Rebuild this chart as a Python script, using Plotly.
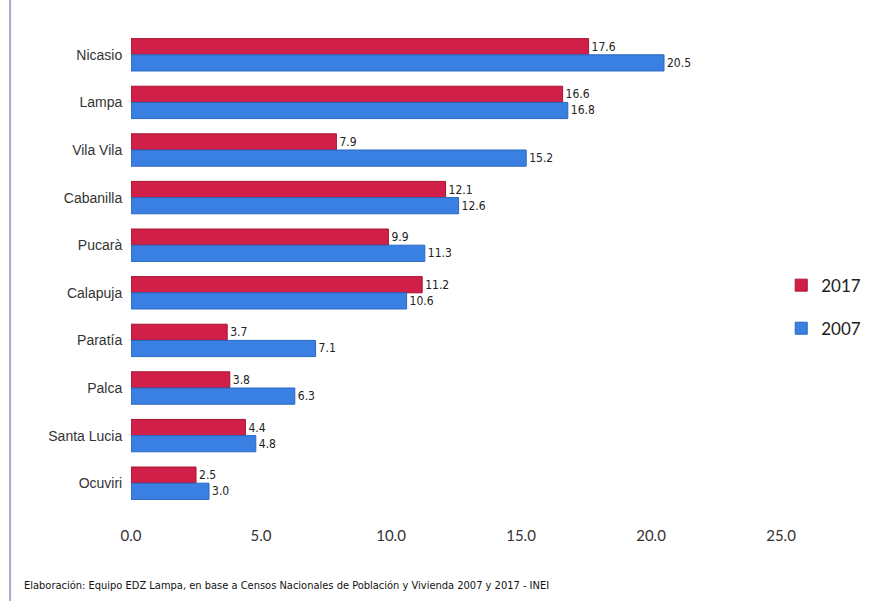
import plotly.graph_objects as go

# Data
districts = ["Nicasio", "Lampa", "Vila Vila", "Cabanilla", "Pucarà",
             "Calapuja", "Paratía", "Palca", "Santa Lucia", "Ocuviri"]
values_2017 = [17.6, 16.6, 7.9, 12.1, 9.9, 11.2, 3.7, 3.8, 4.4, 2.5]
values_2007 = [20.5, 16.8, 15.2, 12.6, 11.3, 10.6, 7.1, 6.3, 4.8, 3.0]
x_ticks = [0, 5, 10, 15, 20, 25]

red = "#d01f48"
blue = "#3a80e2"
label_font = dict(size=12, color="#222222", family="DejaVu Sans Condensed")

fig = go.Figure()

fig.add_trace(go.Bar(
    y=districts, x=values_2017, name="2017", orientation="h", legendgroup="a",
    marker=dict(color=red, line=dict(color="#a8142f", width=1)),
    text=[f"{v:.1f}" for v in values_2017], textposition="outside",
    textfont=label_font, cliponaxis=False,
))
fig.add_trace(go.Bar(
    y=districts, x=values_2007, name="2007", orientation="h", legendgroup="b",
    marker=dict(color=blue, line=dict(color="#2a66c0", width=1)),
    text=[f"{v:.1f}" for v in values_2007], textposition="outside",
    textfont=label_font, cliponaxis=False,
))

fig.update_layout(
    width=869, height=601,
    barmode="group", bargap=0.32, bargroupgap=0,
    plot_bgcolor="white", paper_bgcolor="white",
    margin=dict(l=131, r=88, t=31, b=94, autoexpand=False),
    font=dict(family="Liberation Sans", color="#333333"),
    legend=dict(xref="container", x=0.899, y=0.42, yanchor="middle", xanchor="left",
                traceorder="grouped", font=dict(size=17, family="Lato", color="#222222"),
                itemwidth=30, tracegroupgap=18),
    showlegend=True,
)

fig.update_yaxes(autorange="reversed", showgrid=False, showline=False,
                 ticks="", tickfont=dict(size=14, color="#333333"), ticksuffix="  ")
fig.update_xaxes(range=[0, 25], tickvals=x_ticks, tickformat=".1f",
                 showgrid=False, zeroline=False, showline=False,
                 ticklabelstandoff=18,
                 tickfont=dict(size=15, color="#333333", family="Lato"))

# left frame line
fig.add_shape(type="line", xref="paper", yref="paper",
              x0=-0.186, x1=-0.186, y0=-0.2, y1=1.07,
              line=dict(color="#a8a8cc", width=2))

fig.add_annotation(
    text="Elaboración: Equipo EDZ Lampa, en base a Censos Nacionales de Población y Vivienda 2007 y 2017 - INEI",
    xref="paper", yref="paper", x=-0.168, y=-0.164, xanchor="left", yanchor="middle",
    showarrow=False, font=dict(size=11, color="#111111", family="DejaVu Sans Condensed"),
)

fig.write_html("out.html", config={"displayModeBar": False},
               post_script="document.body.style.margin='0';")
